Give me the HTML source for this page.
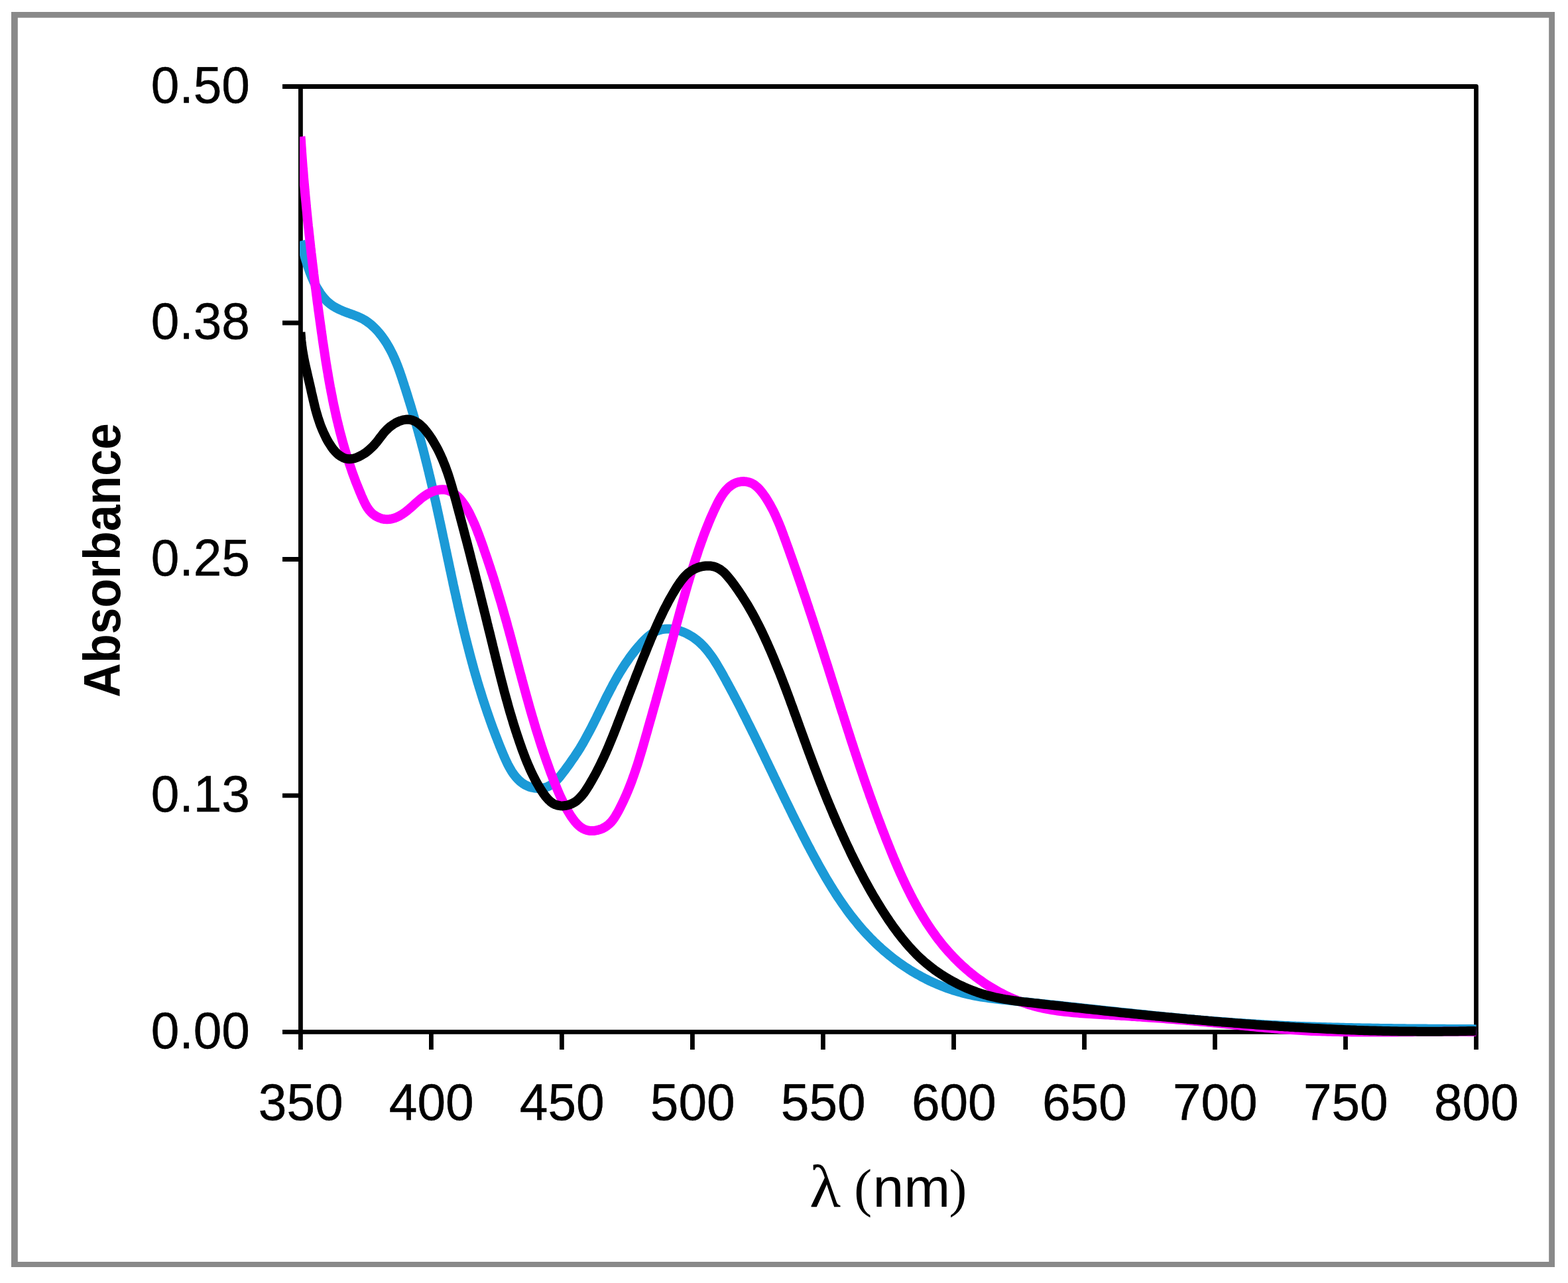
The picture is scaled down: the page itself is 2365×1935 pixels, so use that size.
<!DOCTYPE html>
<html lang="en">
<head>
<meta charset="utf-8">
<title>Absorbance spectra</title>
<style>
html,body{margin:0;padding:0;background:#fff;}
body{width:2365px;height:1935px;overflow:hidden;}
svg{display:block;}
.t{font-family:"Liberation Sans",sans-serif;fill:#000;}
.s{font-family:"Liberation Serif",serif;fill:#000;}
</style>
</head>
<body>
<svg width="2365" height="1935" viewBox="0 0 2365 1935">
<rect x="0" y="0" width="2365" height="1935" fill="#fff"/>
<path fill="#898989" fill-rule="evenodd" d="M17 18H2345V1911H17Z M26.8 26.8V1903.1H2336.2V26.8Z"/>
<g fill="none" stroke="#000" stroke-width="6.8" stroke-linecap="butt">
<rect x="453.4" y="130.5" width="1773.1" height="1425.9" stroke-linejoin="round"/>
<path d="M426 130.5H453.4M426 487.0H453.4M426 843.5H453.4M426 1199.9H453.4M426 1556.4H453.4M453.4 1556.4V1583M650.4 1556.4V1583M847.4 1556.4V1583M1044.4 1556.4V1583M1241.4 1556.4V1583M1438.5 1556.4V1583M1635.5 1556.4V1583M1832.5 1556.4V1583M2029.5 1556.4V1583M2226.5 1556.4V1583"/>
</g>
<defs><clipPath id="pc"><rect x="452.0" y="100" width="1774.8" height="1500"/></clipPath></defs>
<g clip-path="url(#pc)" fill="none" stroke-width="14.0" stroke-linejoin="round" stroke-linecap="butt">
<path stroke="#1b9ad7" d="M453.4 363.5L454.4 367.4L455.4 371.2L456.4 375.0L457.5 378.8L458.5 382.6L459.6 386.5L460.7 390.4L461.9 394.2L463.1 398.1L464.3 401.9L465.6 405.7L467.0 409.5L468.4 413.3L469.9 417.1L471.5 420.8L473.1 424.4L474.9 428.0L476.7 431.6L478.7 435.1L480.8 438.5L482.9 441.9L485.2 445.2L487.7 448.3L490.3 451.3L493.0 454.2L495.9 456.8L499.0 459.3L502.2 461.5L505.6 463.5L509.1 465.4L512.7 467.1L516.3 468.7L520.1 470.2L523.8 471.6L527.6 473.0L531.5 474.3L535.2 475.7L539.0 477.2L542.6 478.8L546.2 480.5L549.7 482.5L553.1 484.7L556.3 487.0L559.5 489.5L562.5 492.2L565.4 495.0L568.2 497.9L570.9 500.9L573.4 504.0L575.9 507.1L578.2 510.3L580.4 513.5L582.6 516.8L584.6 520.2L586.6 523.6L588.5 527.1L590.3 530.6L592.1 534.1L593.7 537.7L595.4 541.3L596.9 545.0L598.4 548.7L599.9 552.4L601.3 556.2L602.7 559.9L604.0 563.7L605.3 567.5L606.6 571.4L607.8 575.2L609.1 579.0L610.3 582.9L611.6 586.7L612.8 590.6L614.0 594.4L615.2 598.3L616.4 602.2L617.6 606.0L618.8 609.9L620.0 613.8L621.1 617.6L622.3 621.5L623.4 625.4L624.6 629.2L625.7 633.1L626.9 637.0L628.0 640.9L629.1 644.7L630.2 648.6L631.3 652.5L632.3 656.4L633.4 660.3L634.5 664.2L635.5 668.0L636.5 671.9L637.6 675.8L638.6 679.7L639.6 683.6L640.6 687.5L641.6 691.4L642.5 695.2L643.5 699.1L644.5 703.0L645.4 706.9L646.4 710.8L647.3 714.7L648.2 718.6L649.2 722.5L650.1 726.3L651.0 730.2L651.9 734.1L652.8 738.0L653.7 741.9L654.6 745.8L655.4 749.7L656.3 753.6L657.2 757.5L658.0 761.4L658.9 765.2L659.7 769.1L660.6 773.0L661.4 776.9L662.3 780.8L663.1 784.7L664.0 788.6L664.8 792.5L665.6 796.4L666.5 800.3L667.3 804.2L668.1 808.1L668.9 811.9L669.8 815.8L670.6 819.7L671.4 823.6L672.2 827.5L673.1 831.4L673.9 835.3L674.7 839.2L675.5 843.1L676.4 847.0L677.2 850.9L678.0 854.7L678.8 858.6L679.7 862.5L680.5 866.4L681.3 870.3L682.2 874.2L683.0 878.1L683.8 882.0L684.7 885.9L685.5 889.7L686.4 893.6L687.3 897.5L688.1 901.4L689.0 905.3L689.9 909.2L690.7 913.1L691.6 917.0L692.5 920.8L693.4 924.7L694.3 928.6L695.2 932.5L696.1 936.4L697.0 940.3L698.0 944.1L698.9 948.0L699.8 951.9L700.8 955.8L701.7 959.7L702.7 963.6L703.7 967.4L704.7 971.3L705.7 975.2L706.7 979.1L707.7 982.9L708.7 986.8L709.7 990.7L710.8 994.6L711.8 998.4L712.9 1002.3L713.9 1006.2L715.0 1010.1L716.1 1013.9L717.2 1017.8L718.4 1021.7L719.5 1025.6L720.6 1029.4L721.8 1033.3L723.0 1037.2L724.2 1041.0L725.4 1044.9L726.6 1048.8L727.8 1052.6L729.0 1056.5L730.3 1060.3L731.6 1064.2L732.9 1068.1L734.2 1071.9L735.5 1075.8L736.8 1079.6L738.2 1083.5L739.5 1087.4L740.9 1091.2L742.3 1095.1L743.7 1098.9L745.2 1102.8L746.6 1106.6L748.1 1110.5L749.6 1114.3L751.1 1118.2L752.6 1122.0L754.1 1125.9L755.7 1129.7L757.3 1133.6L758.9 1137.4L760.5 1141.2L762.2 1145.0L763.9 1148.7L765.7 1152.4L767.6 1156.0L769.5 1159.4L771.5 1162.8L773.6 1166.0L775.9 1169.1L778.2 1172.1L780.7 1174.8L783.3 1177.4L786.0 1179.7L788.9 1181.8L792.0 1183.7L795.2 1185.3L798.6 1186.7L802.2 1187.7L806.0 1188.5L809.9 1188.9L813.9 1188.9L817.9 1188.6L821.8 1187.8L825.6 1186.6L829.2 1184.9L832.6 1182.8L835.9 1180.3L838.9 1177.4L841.8 1174.4L844.6 1171.1L847.3 1167.7L849.9 1164.3L852.5 1160.9L854.9 1157.5L857.4 1154.2L859.7 1150.9L862.0 1147.6L864.3 1144.3L866.6 1141.1L868.7 1137.8L870.9 1134.5L873.0 1131.2L875.1 1127.9L877.1 1124.5L879.1 1121.1L881.1 1117.6L883.0 1114.2L884.9 1110.7L886.8 1107.2L888.7 1103.7L890.6 1100.2L892.4 1096.6L894.2 1093.0L896.0 1089.5L897.8 1085.9L899.6 1082.3L901.3 1078.7L903.1 1075.1L904.9 1071.5L906.7 1067.9L908.4 1064.3L910.2 1060.7L912.0 1057.1L913.7 1053.5L915.5 1049.9L917.4 1046.4L919.2 1042.8L921.0 1039.3L922.9 1035.8L924.7 1032.2L926.6 1028.8L928.6 1025.3L930.5 1021.8L932.5 1018.4L934.5 1015.0L936.6 1011.6L938.7 1008.2L940.9 1004.8L943.0 1001.5L945.3 998.2L947.6 994.9L949.9 991.6L952.3 988.3L954.8 985.1L957.3 981.9L959.9 978.7L962.6 975.5L965.4 972.4L968.2 969.2L971.1 966.2L974.1 963.2L977.1 960.5L980.3 957.9L983.6 955.5L986.9 953.5L990.4 951.8L994.0 950.4L997.7 949.4L1001.5 948.8L1005.3 948.5L1009.2 948.5L1013.1 948.8L1017.0 949.3L1020.9 950.1L1024.8 951.2L1028.6 952.5L1032.4 954.0L1036.1 955.8L1039.7 957.7L1043.1 959.7L1046.5 961.9L1049.7 964.3L1052.8 966.8L1055.8 969.4L1058.6 972.1L1061.4 974.9L1064.0 977.9L1066.6 980.9L1069.0 984.0L1071.4 987.2L1073.8 990.4L1076.0 993.7L1078.2 997.1L1080.3 1000.5L1082.4 1004.0L1084.5 1007.5L1086.5 1011.0L1088.5 1014.5L1090.5 1018.0L1092.4 1021.6L1094.4 1025.1L1096.3 1028.7L1098.2 1032.2L1100.2 1035.8L1102.1 1039.3L1104.0 1042.9L1105.9 1046.4L1107.7 1050.0L1109.6 1053.6L1111.5 1057.1L1113.3 1060.7L1115.2 1064.3L1117.0 1067.8L1118.8 1071.4L1120.6 1075.0L1122.4 1078.6L1124.3 1082.1L1126.0 1085.7L1127.8 1089.3L1129.6 1092.9L1131.4 1096.5L1133.2 1100.1L1134.9 1103.6L1136.7 1107.2L1138.5 1110.8L1140.2 1114.4L1142.0 1118.0L1143.7 1121.6L1145.5 1125.2L1147.2 1128.8L1148.9 1132.4L1150.7 1136.0L1152.4 1139.6L1154.1 1143.2L1155.8 1146.7L1157.6 1150.3L1159.3 1153.9L1161.0 1157.5L1162.7 1161.1L1164.5 1164.7L1166.2 1168.3L1167.9 1171.9L1169.6 1175.5L1171.4 1179.1L1173.1 1182.7L1174.8 1186.3L1176.5 1189.9L1178.3 1193.5L1180.0 1197.1L1181.7 1200.7L1183.5 1204.3L1185.2 1207.9L1187.0 1211.4L1188.7 1215.0L1190.5 1218.6L1192.2 1222.2L1194.0 1225.8L1195.7 1229.4L1197.5 1233.0L1199.3 1236.6L1201.1 1240.1L1202.9 1243.7L1204.7 1247.3L1206.5 1250.9L1208.3 1254.4L1210.1 1258.0L1211.9 1261.6L1213.8 1265.2L1215.6 1268.7L1217.4 1272.3L1219.3 1275.9L1221.2 1279.4L1223.0 1283.0L1224.9 1286.5L1226.8 1290.1L1228.7 1293.6L1230.7 1297.2L1232.6 1300.7L1234.5 1304.3L1236.5 1307.8L1238.5 1311.3L1240.5 1314.8L1242.5 1318.3L1244.5 1321.8L1246.5 1325.2L1248.6 1328.7L1250.7 1332.2L1252.8 1335.6L1254.9 1339.0L1257.0 1342.4L1259.2 1345.8L1261.3 1349.2L1263.5 1352.5L1265.8 1355.9L1268.0 1359.2L1270.3 1362.5L1272.6 1365.8L1274.9 1369.0L1277.2 1372.3L1279.6 1375.5L1282.0 1378.7L1284.4 1381.9L1286.9 1385.0L1289.4 1388.1L1291.9 1391.2L1294.4 1394.3L1297.0 1397.3L1299.6 1400.4L1302.2 1403.3L1304.9 1406.3L1307.6 1409.2L1310.3 1412.1L1313.1 1415.0L1315.9 1417.8L1318.7 1420.6L1321.6 1423.4L1324.5 1426.1L1327.5 1428.8L1330.4 1431.5L1333.4 1434.1L1336.5 1436.7L1339.6 1439.2L1342.7 1441.8L1345.8 1444.2L1349.0 1446.7L1352.1 1449.1L1355.4 1451.4L1358.6 1453.7L1361.9 1456.0L1365.2 1458.2L1368.6 1460.4L1371.9 1462.6L1375.3 1464.7L1378.7 1466.7L1382.2 1468.8L1385.7 1470.7L1389.2 1472.7L1392.7 1474.5L1396.3 1476.4L1399.8 1478.1L1403.4 1479.9L1407.1 1481.6L1410.7 1483.2L1414.4 1484.8L1418.1 1486.3L1421.8 1487.8L1425.5 1489.2L1429.3 1490.6L1433.1 1491.9L1436.9 1493.2L1440.7 1494.4L1444.5 1495.5L1448.4 1496.6L1452.3 1497.7L1456.2 1498.7L1460.1 1499.6L1464.0 1500.5L1468.0 1501.3L1471.9 1502.1L1475.9 1502.8L1479.9 1503.5L1483.9 1504.1L1487.9 1504.7L1491.9 1505.3L1495.9 1505.8L1499.9 1506.3L1504.0 1506.8L1508.0 1507.3L1512.0 1507.7L1516.0 1508.1L1520.0 1508.6L1524.0 1509.0L1528.0 1509.4L1532.0 1509.8L1536.0 1510.2L1539.9 1510.6L1543.9 1511.0L1547.9 1511.4L1551.8 1511.8L1555.8 1512.2L1559.8 1512.6L1563.7 1513.0L1567.7 1513.4L1571.6 1513.9L1575.6 1514.3L1579.6 1514.7L1583.5 1515.1L1587.5 1515.5L1591.5 1515.9L1595.4 1516.3L1599.4 1516.8L1603.4 1517.2L1607.3 1517.6L1611.3 1518.0L1615.3 1518.5L1619.2 1518.9L1623.2 1519.3L1627.2 1519.7L1631.2 1520.2L1635.1 1520.6L1639.1 1521.0L1643.1 1521.4L1647.1 1521.9L1651.0 1522.3L1655.0 1522.7L1659.0 1523.2L1663.0 1523.6L1666.9 1524.0L1670.9 1524.4L1674.9 1524.9L1678.9 1525.3L1682.9 1525.7L1686.8 1526.2L1690.8 1526.6L1694.8 1527.0L1698.8 1527.4L1702.8 1527.8L1706.8 1528.3L1710.8 1528.7L1714.7 1529.1L1718.7 1529.5L1722.7 1529.9L1726.7 1530.3L1730.7 1530.8L1734.7 1531.2L1738.7 1531.6L1742.6 1532.0L1746.6 1532.4L1750.6 1532.8L1754.6 1533.2L1758.6 1533.6L1762.6 1534.0L1766.6 1534.3L1770.6 1534.7L1774.6 1535.1L1778.6 1535.5L1782.6 1535.9L1786.5 1536.2L1790.5 1536.6L1794.5 1537.0L1798.5 1537.3L1802.5 1537.7L1806.5 1538.0L1810.5 1538.4L1814.5 1538.7L1818.5 1539.1L1822.5 1539.4L1826.5 1539.7L1830.5 1540.1L1834.5 1540.4L1838.5 1540.7L1842.5 1541.0L1846.5 1541.3L1850.4 1541.6L1854.4 1541.9L1858.4 1542.2L1862.4 1542.5L1866.4 1542.8L1870.4 1543.0L1874.4 1543.3L1878.4 1543.6L1882.4 1543.8L1886.4 1544.1L1890.4 1544.3L1894.4 1544.6L1898.4 1544.8L1902.4 1545.0L1906.4 1545.3L1910.4 1545.5L1914.4 1545.7L1918.4 1545.9L1922.4 1546.1L1926.4 1546.3L1930.4 1546.5L1934.4 1546.7L1938.4 1546.9L1942.4 1547.0L1946.4 1547.2L1950.4 1547.4L1954.4 1547.6L1958.4 1547.7L1962.4 1547.9L1966.3 1548.0L1970.3 1548.2L1974.3 1548.3L1978.3 1548.5L1982.3 1548.6L1986.3 1548.7L1990.3 1548.8L1994.3 1549.0L1998.3 1549.1L2002.3 1549.2L2006.3 1549.3L2010.3 1549.4L2014.3 1549.5L2018.3 1549.6L2022.3 1549.7L2026.3 1549.8L2030.3 1549.9L2034.3 1550.0L2038.3 1550.1L2042.3 1550.2L2046.3 1550.3L2050.3 1550.3L2054.3 1550.4L2058.3 1550.5L2062.3 1550.6L2066.3 1550.6L2070.3 1550.7L2074.3 1550.8L2078.3 1550.8L2082.3 1550.9L2086.3 1550.9L2090.3 1551.0L2094.3 1551.1L2098.3 1551.1L2102.3 1551.2L2106.4 1551.2L2110.4 1551.2L2114.4 1551.3L2118.4 1551.3L2122.4 1551.4L2126.4 1551.4L2130.4 1551.5L2134.4 1551.5L2138.4 1551.5L2142.4 1551.6L2146.4 1551.6L2150.4 1551.6L2154.4 1551.7L2158.4 1551.7L2162.4 1551.7L2166.4 1551.8L2170.4 1551.8L2174.4 1551.8L2178.4 1551.8L2182.4 1551.9L2186.4 1551.9L2190.5 1551.9L2194.5 1552.0L2198.5 1552.0L2202.5 1552.0L2206.5 1552.0L2210.5 1552.1L2214.5 1552.1L2218.5 1552.1L2222.5 1552.2L2226.5 1552.4"/>
<path stroke="#ff00ff" d="M453.4 206.0L453.8 210.0L454.1 214.0L454.3 218.0L454.6 222.0L454.9 226.0L455.1 230.0L455.4 233.9L455.7 237.9L456.0 241.9L456.3 245.9L456.6 249.9L456.9 253.9L457.3 257.9L457.6 261.9L457.9 265.9L458.2 269.9L458.6 273.9L458.9 277.9L459.3 281.8L459.6 285.8L460.0 289.8L460.3 293.8L460.7 297.8L461.1 301.8L461.5 305.7L461.8 309.7L462.2 313.7L462.6 317.7L463.0 321.7L463.4 325.6L463.8 329.6L464.2 333.6L464.6 337.6L465.0 341.5L465.5 345.5L465.9 349.5L466.3 353.5L466.8 357.4L467.2 361.4L467.6 365.4L468.1 369.4L468.5 373.3L469.0 377.3L469.4 381.3L469.9 385.3L470.4 389.2L470.8 393.2L471.3 397.2L471.8 401.1L472.3 405.1L472.8 409.1L473.2 413.0L473.7 417.0L474.2 421.0L474.7 424.9L475.2 428.9L475.7 432.9L476.3 436.8L476.8 440.8L477.3 444.8L477.8 448.7L478.3 452.7L478.8 456.7L479.4 460.6L479.9 464.6L480.4 468.6L481.0 472.5L481.5 476.5L482.1 480.5L482.6 484.4L483.2 488.4L483.7 492.4L484.3 496.3L484.8 500.3L485.4 504.3L486.0 508.2L486.5 512.2L487.1 516.2L487.7 520.1L488.3 524.1L488.9 528.0L489.5 532.0L490.1 536.0L490.7 539.9L491.3 543.9L491.9 547.8L492.6 551.8L493.2 555.7L493.9 559.7L494.6 563.6L495.2 567.6L495.9 571.5L496.6 575.4L497.3 579.4L498.0 583.3L498.8 587.2L499.5 591.2L500.3 595.1L501.1 599.0L501.8 602.9L502.6 606.9L503.4 610.8L504.3 614.7L505.1 618.6L506.0 622.5L506.8 626.4L507.7 630.3L508.6 634.2L509.6 638.0L510.5 641.9L511.5 645.8L512.4 649.7L513.4 653.5L514.5 657.4L515.5 661.3L516.5 665.1L517.6 669.0L518.7 672.8L519.8 676.6L521.0 680.5L522.1 684.3L523.3 688.1L524.5 691.9L525.7 695.7L527.0 699.5L528.3 703.3L529.6 707.1L530.9 710.9L532.2 714.6L533.6 718.4L535.0 722.2L536.4 725.9L537.9 729.7L539.4 733.4L540.9 737.1L542.4 740.9L544.0 744.6L545.5 748.3L547.2 752.0L548.8 755.7L550.6 759.3L552.4 762.8L554.5 766.2L556.8 769.4L559.3 772.3L562.1 775.0L565.3 777.4L568.7 779.4L572.3 781.0L576.1 782.3L579.9 783.0L583.8 783.3L587.7 783.0L591.6 782.3L595.4 781.2L599.1 779.7L602.8 777.9L606.4 775.8L609.8 773.5L613.1 771.0L616.3 768.4L619.5 765.7L622.6 763.0L625.6 760.2L628.7 757.4L631.8 754.7L634.9 752.0L638.2 749.5L641.5 747.2L645.0 745.0L648.6 743.1L652.4 741.4L656.2 740.0L660.1 739.1L664.0 738.5L667.8 738.3L671.5 738.6L675.0 739.4L678.4 740.7L681.7 742.3L684.8 744.3L687.8 746.6L690.7 749.2L693.5 752.1L696.1 755.2L698.6 758.6L701.1 762.1L703.4 765.7L705.6 769.5L707.7 773.4L709.6 777.3L711.5 781.2L713.3 785.1L715.0 788.9L716.7 792.7L718.2 796.5L719.7 800.2L721.1 803.9L722.5 807.5L723.8 811.2L725.2 814.8L726.5 818.5L727.8 822.1L729.1 825.8L730.3 829.5L731.6 833.2L732.9 837.0L734.2 840.7L735.4 844.4L736.7 848.2L737.9 851.9L739.2 855.7L740.4 859.5L741.6 863.3L742.9 867.1L744.1 870.9L745.3 874.7L746.5 878.5L747.7 882.4L748.8 886.2L750.0 890.0L751.2 893.9L752.3 897.7L753.5 901.6L754.6 905.4L755.8 909.3L756.9 913.1L758.0 917.0L759.1 920.9L760.2 924.7L761.3 928.6L762.4 932.5L763.5 936.3L764.6 940.2L765.6 944.1L766.7 947.9L767.8 951.8L768.8 955.7L769.9 959.5L770.9 963.4L772.0 967.3L773.0 971.2L774.0 975.0L775.1 978.9L776.1 982.8L777.1 986.6L778.2 990.5L779.2 994.4L780.2 998.3L781.2 1002.1L782.3 1006.0L783.3 1009.9L784.3 1013.7L785.4 1017.6L786.4 1021.4L787.4 1025.3L788.5 1029.2L789.5 1033.0L790.6 1036.9L791.6 1040.7L792.7 1044.6L793.7 1048.5L794.8 1052.3L795.9 1056.1L797.0 1060.0L798.0 1063.8L799.1 1067.7L800.2 1071.5L801.3 1075.3L802.4 1079.2L803.6 1083.0L804.7 1086.8L805.8 1090.7L807.0 1094.5L808.1 1098.3L809.3 1102.1L810.5 1105.9L811.7 1109.7L812.9 1113.5L814.1 1117.3L815.3 1121.1L816.5 1124.9L817.8 1128.7L819.0 1132.5L820.3 1136.3L821.6 1140.0L822.9 1143.8L824.2 1147.6L825.6 1151.3L826.9 1155.1L828.3 1158.8L829.6 1162.6L831.0 1166.3L832.5 1170.0L833.9 1173.8L835.3 1177.5L836.8 1181.2L838.3 1184.9L839.8 1188.6L841.3 1192.3L842.9 1196.0L844.5 1199.7L846.2 1203.3L847.9 1207.0L849.7 1210.6L851.5 1214.2L853.4 1217.8L855.4 1221.4L857.5 1224.9L859.7 1228.4L861.9 1231.9L864.3 1235.3L866.8 1238.6L869.5 1241.7L872.3 1244.5L875.2 1247.1L878.4 1249.2L881.7 1250.9L885.3 1252.1L889.0 1252.9L892.8 1253.1L896.7 1252.9L900.6 1252.2L904.5 1251.1L908.3 1249.7L911.9 1247.8L915.3 1245.6L918.4 1243.1L921.3 1240.4L923.9 1237.3L926.2 1234.1L928.4 1230.7L930.5 1227.2L932.5 1223.6L934.4 1220.0L936.2 1216.4L938.0 1212.7L939.8 1209.1L941.5 1205.4L943.2 1201.7L944.8 1198.0L946.4 1194.3L947.9 1190.6L949.4 1186.9L950.9 1183.1L952.3 1179.4L953.7 1175.6L955.0 1171.9L956.4 1168.1L957.7 1164.3L959.0 1160.5L960.2 1156.7L961.5 1152.9L962.7 1149.1L963.9 1145.2L965.0 1141.4L966.2 1137.6L967.3 1133.8L968.5 1129.9L969.6 1126.1L970.7 1122.3L971.8 1118.4L972.9 1114.6L974.0 1110.7L975.1 1106.9L976.2 1103.1L977.2 1099.2L978.3 1095.4L979.4 1091.6L980.5 1087.7L981.6 1083.9L982.7 1080.1L983.8 1076.2L984.8 1072.4L985.9 1068.6L987.0 1064.7L988.1 1060.9L989.2 1057.1L990.2 1053.2L991.3 1049.4L992.4 1045.6L993.4 1041.7L994.5 1037.9L995.6 1034.0L996.6 1030.2L997.7 1026.3L998.8 1022.5L999.8 1018.6L1000.9 1014.7L1001.9 1010.9L1003.0 1007.0L1004.0 1003.1L1005.1 999.3L1006.1 995.4L1007.1 991.5L1008.2 987.6L1009.2 983.7L1010.2 979.8L1011.3 975.9L1012.3 972.1L1013.3 968.2L1014.4 964.3L1015.4 960.4L1016.5 956.5L1017.5 952.6L1018.5 948.7L1019.6 944.8L1020.6 940.9L1021.7 937.0L1022.7 933.1L1023.8 929.3L1024.8 925.4L1025.9 921.5L1027.0 917.6L1028.0 913.8L1029.1 909.9L1030.2 906.0L1031.3 902.2L1032.4 898.3L1033.5 894.5L1034.6 890.6L1035.7 886.8L1036.8 882.9L1037.9 879.1L1039.1 875.3L1040.2 871.5L1041.4 867.7L1042.5 863.9L1043.7 860.1L1044.9 856.3L1046.1 852.5L1047.3 848.7L1048.5 845.0L1049.7 841.2L1051.0 837.5L1052.2 833.8L1053.4 830.0L1054.7 826.3L1056.0 822.6L1057.3 818.9L1058.6 815.2L1060.0 811.5L1061.3 807.8L1062.7 804.1L1064.1 800.4L1065.6 796.7L1067.1 793.0L1068.6 789.2L1070.1 785.5L1071.7 781.7L1073.4 777.9L1075.1 774.1L1076.8 770.2L1078.6 766.4L1080.5 762.5L1082.4 758.6L1084.4 754.9L1086.5 751.2L1088.7 747.7L1091.0 744.3L1093.4 741.1L1096.0 738.1L1098.7 735.4L1101.6 733.0L1104.6 730.9L1107.8 729.1L1111.2 727.7L1114.8 726.8L1118.5 726.2L1122.3 726.1L1126.0 726.5L1129.7 727.3L1133.3 728.6L1136.7 730.4L1139.8 732.7L1142.8 735.3L1145.7 738.2L1148.4 741.4L1150.9 744.7L1153.4 748.2L1155.7 751.7L1157.9 755.2L1160.0 758.8L1162.1 762.4L1164.0 766.0L1165.9 769.6L1167.7 773.2L1169.4 776.8L1171.0 780.5L1172.6 784.1L1174.2 787.8L1175.7 791.4L1177.2 795.1L1178.6 798.8L1180.0 802.5L1181.4 806.2L1182.7 809.9L1184.1 813.6L1185.4 817.3L1186.8 821.1L1188.1 824.8L1189.5 828.5L1190.8 832.3L1192.1 836.0L1193.5 839.8L1194.8 843.5L1196.1 847.3L1197.4 851.1L1198.7 854.8L1200.1 858.6L1201.4 862.4L1202.7 866.1L1204.0 869.9L1205.3 873.7L1206.6 877.5L1207.9 881.3L1209.2 885.1L1210.4 888.9L1211.7 892.7L1213.0 896.5L1214.3 900.3L1215.6 904.1L1216.8 907.9L1218.1 911.7L1219.4 915.5L1220.6 919.4L1221.9 923.2L1223.2 927.0L1224.4 930.8L1225.7 934.6L1226.9 938.5L1228.2 942.3L1229.4 946.1L1230.7 949.9L1231.9 953.7L1233.2 957.6L1234.4 961.4L1235.6 965.2L1236.9 969.0L1238.1 972.9L1239.3 976.7L1240.5 980.5L1241.8 984.3L1243.0 988.2L1244.2 992.0L1245.4 995.8L1246.6 999.6L1247.9 1003.4L1249.1 1007.3L1250.3 1011.1L1251.5 1014.9L1252.7 1018.7L1253.9 1022.5L1255.1 1026.3L1256.3 1030.1L1257.5 1033.9L1258.7 1037.7L1259.9 1041.5L1261.1 1045.3L1262.3 1049.1L1263.5 1052.9L1264.7 1056.7L1265.9 1060.5L1267.1 1064.3L1268.3 1068.1L1269.5 1071.9L1270.8 1075.7L1272.0 1079.5L1273.2 1083.3L1274.4 1087.1L1275.6 1090.9L1276.8 1094.7L1278.0 1098.5L1279.2 1102.2L1280.5 1106.0L1281.7 1109.8L1282.9 1113.6L1284.1 1117.4L1285.4 1121.2L1286.6 1124.9L1287.8 1128.7L1289.1 1132.5L1290.3 1136.3L1291.6 1140.1L1292.8 1143.8L1294.1 1147.6L1295.4 1151.4L1296.6 1155.1L1297.9 1158.9L1299.2 1162.7L1300.5 1166.5L1301.7 1170.2L1303.0 1174.0L1304.3 1177.8L1305.6 1181.5L1306.9 1185.3L1308.2 1189.1L1309.6 1192.8L1310.9 1196.6L1312.2 1200.4L1313.6 1204.1L1314.9 1207.9L1316.3 1211.6L1317.6 1215.4L1319.0 1219.2L1320.4 1222.9L1321.7 1226.7L1323.1 1230.4L1324.5 1234.2L1325.9 1238.0L1327.4 1241.7L1328.8 1245.5L1330.2 1249.2L1331.6 1253.0L1333.1 1256.7L1334.6 1260.5L1336.0 1264.2L1337.5 1268.0L1339.0 1271.7L1340.5 1275.5L1342.0 1279.2L1343.5 1283.0L1345.0 1286.7L1346.6 1290.5L1348.1 1294.2L1349.7 1297.9L1351.3 1301.7L1352.9 1305.4L1354.5 1309.1L1356.1 1312.8L1357.7 1316.5L1359.4 1320.2L1361.1 1323.9L1362.8 1327.5L1364.5 1331.2L1366.2 1334.8L1368.0 1338.5L1369.8 1342.1L1371.6 1345.7L1373.4 1349.3L1375.2 1352.8L1377.1 1356.4L1379.0 1359.9L1380.9 1363.5L1382.9 1367.0L1384.8 1370.5L1386.8 1373.9L1388.8 1377.4L1390.9 1380.8L1393.0 1384.2L1395.1 1387.6L1397.2 1391.0L1399.4 1394.3L1401.6 1397.6L1403.8 1400.9L1406.1 1404.2L1408.4 1407.4L1410.7 1410.6L1413.0 1413.8L1415.4 1417.0L1417.9 1420.1L1420.3 1423.2L1422.8 1426.3L1425.4 1429.3L1428.0 1432.3L1430.6 1435.3L1433.2 1438.2L1435.9 1441.1L1438.6 1444.0L1441.4 1446.8L1444.2 1449.6L1447.1 1452.4L1450.0 1455.1L1452.9 1457.8L1455.9 1460.4L1458.9 1463.1L1462.0 1465.6L1465.0 1468.2L1468.2 1470.6L1471.3 1473.1L1474.5 1475.5L1477.7 1477.8L1481.0 1480.1L1484.3 1482.4L1487.6 1484.6L1491.0 1486.7L1494.4 1488.9L1497.8 1490.9L1501.2 1492.9L1504.7 1494.9L1508.2 1496.8L1511.8 1498.6L1515.3 1500.4L1518.9 1502.2L1522.5 1503.9L1526.2 1505.5L1529.8 1507.1L1533.5 1508.6L1537.2 1510.0L1541.0 1511.4L1544.7 1512.7L1548.5 1514.0L1552.3 1515.2L1556.1 1516.3L1560.0 1517.4L1563.8 1518.4L1567.7 1519.4L1571.6 1520.3L1575.5 1521.1L1579.4 1521.9L1583.4 1522.6L1587.3 1523.3L1591.3 1523.9L1595.3 1524.5L1599.3 1525.0L1603.3 1525.5L1607.3 1526.0L1611.3 1526.4L1615.3 1526.8L1619.3 1527.2L1623.4 1527.5L1627.4 1527.9L1631.4 1528.2L1635.5 1528.4L1639.5 1528.7L1643.6 1529.0L1647.6 1529.2L1651.7 1529.5L1655.7 1529.7L1659.7 1529.9L1663.8 1530.2L1667.8 1530.4L1671.8 1530.6L1675.8 1530.9L1679.8 1531.1L1683.8 1531.4L1687.8 1531.6L1691.8 1531.9L1695.8 1532.1L1699.8 1532.3L1703.8 1532.6L1707.8 1532.9L1711.8 1533.1L1715.8 1533.4L1719.8 1533.6L1723.7 1533.9L1727.7 1534.2L1731.7 1534.4L1735.6 1534.7L1739.6 1535.0L1743.6 1535.3L1747.6 1535.6L1751.5 1535.8L1755.5 1536.1L1759.4 1536.4L1763.4 1536.7L1767.4 1537.0L1771.3 1537.3L1775.3 1537.7L1779.3 1538.0L1783.2 1538.3L1787.2 1538.6L1791.2 1538.9L1795.1 1539.3L1799.1 1539.6L1803.1 1540.0L1807.0 1540.3L1811.0 1540.7L1815.0 1541.0L1818.9 1541.4L1822.9 1541.8L1826.9 1542.1L1830.9 1542.5L1834.8 1542.9L1838.8 1543.3L1842.8 1543.7L1846.8 1544.1L1850.8 1544.5L1854.8 1544.9L1858.7 1545.3L1862.7 1545.7L1866.7 1546.1L1870.7 1546.5L1874.7 1546.8L1878.7 1547.2L1882.7 1547.6L1886.7 1548.0L1890.7 1548.4L1894.7 1548.8L1898.7 1549.2L1902.7 1549.5L1906.7 1549.9L1910.7 1550.2L1914.7 1550.6L1918.7 1550.9L1922.7 1551.3L1926.6 1551.6L1930.6 1551.9L1934.6 1552.2L1938.6 1552.5L1942.6 1552.8L1946.6 1553.1L1950.6 1553.3L1954.6 1553.6L1958.6 1553.8L1962.6 1554.1L1966.6 1554.3L1970.6 1554.5L1974.6 1554.7L1978.6 1554.9L1982.6 1555.0L1986.6 1555.2L1990.6 1555.3L1994.6 1555.5L1998.6 1555.6L2002.6 1555.7L2006.6 1555.8L2010.6 1555.9L2014.6 1556.0L2018.5 1556.1L2022.5 1556.2L2026.5 1556.2L2030.5 1556.3L2034.5 1556.3L2038.5 1556.4L2042.5 1556.4L2046.5 1556.5L2050.5 1556.5L2054.5 1556.5L2058.5 1556.5L2062.5 1556.5L2066.5 1556.5L2070.5 1556.5L2074.4 1556.5L2078.4 1556.5L2082.4 1556.5L2086.4 1556.5L2090.4 1556.5L2094.4 1556.4L2098.4 1556.4L2102.4 1556.4L2106.4 1556.4L2110.4 1556.3L2114.4 1556.3L2118.4 1556.3L2122.4 1556.2L2126.4 1556.2L2130.4 1556.2L2134.4 1556.1L2138.4 1556.1L2142.4 1556.1L2146.4 1556.0L2150.4 1556.0L2154.4 1556.0L2158.4 1555.9L2162.4 1555.9L2166.4 1555.9L2170.4 1555.9L2174.4 1555.8L2178.4 1555.8L2182.4 1555.8L2186.4 1555.8L2190.4 1555.8L2194.4 1555.8L2198.4 1555.8L2202.5 1555.8L2206.5 1555.8L2210.5 1555.8L2214.5 1555.9L2218.5 1555.9L2222.5 1555.9L2226.5 1556.0"/>
<path stroke="#000" d="M453.4 501.0L453.7 505.0L454.0 509.0L454.3 512.9L454.7 516.9L455.2 520.9L455.7 524.9L456.3 528.8L457.0 532.8L457.7 536.8L458.4 540.7L459.2 544.7L460.0 548.6L460.9 552.5L461.8 556.5L462.7 560.4L463.6 564.3L464.5 568.2L465.4 572.1L466.3 576.0L467.2 579.9L468.1 583.8L469.0 587.6L469.8 591.5L470.7 595.4L471.6 599.2L472.5 603.1L473.4 606.9L474.3 610.7L475.2 614.5L476.2 618.4L477.3 622.2L478.4 626.0L479.5 629.8L480.8 633.6L482.1 637.4L483.4 641.2L484.9 645.0L486.4 648.7L488.1 652.5L489.9 656.3L491.7 660.1L493.7 663.8L495.8 667.5L498.1 671.1L500.4 674.6L502.9 677.9L505.5 680.9L508.2 683.7L511.0 686.1L514.0 688.2L517.1 689.9L520.3 691.2L523.6 692.0L527.0 692.3L530.6 692.0L534.2 691.3L537.9 690.1L541.6 688.5L545.3 686.6L548.9 684.4L552.5 681.9L555.9 679.2L559.2 676.3L562.4 673.2L565.3 670.1L568.0 666.9L570.6 663.7L573.0 660.4L575.5 657.2L577.9 654.1L580.5 651.0L583.3 648.1L586.3 645.2L589.6 642.6L593.1 640.1L596.7 637.9L600.4 636.1L604.2 634.6L608.0 633.4L611.7 632.8L615.4 632.6L618.9 633.0L622.4 633.9L625.7 635.2L628.8 637.0L631.9 639.1L634.8 641.6L637.7 644.3L640.4 647.3L643.0 650.5L645.5 653.8L648.0 657.2L650.3 660.6L652.5 664.1L654.6 667.6L656.7 671.2L658.7 674.7L660.6 678.3L662.4 682.0L664.1 685.6L665.8 689.3L667.4 692.9L668.9 696.7L670.4 700.4L671.9 704.1L673.2 707.9L674.6 711.7L675.9 715.4L677.1 719.2L678.4 723.1L679.5 726.9L680.7 730.7L681.8 734.5L682.9 738.4L684.0 742.2L685.1 746.1L686.2 750.0L687.2 753.8L688.3 757.7L689.3 761.5L690.3 765.4L691.4 769.3L692.4 773.1L693.5 777.0L694.5 780.9L695.5 784.7L696.5 788.6L697.6 792.5L698.6 796.4L699.6 800.2L700.6 804.1L701.6 808.0L702.6 811.8L703.7 815.7L704.7 819.6L705.7 823.5L706.7 827.3L707.7 831.2L708.7 835.1L709.7 839.0L710.6 842.8L711.6 846.7L712.6 850.6L713.6 854.5L714.6 858.4L715.6 862.2L716.6 866.1L717.5 870.0L718.5 873.9L719.5 877.7L720.5 881.6L721.4 885.5L722.4 889.4L723.4 893.3L724.4 897.2L725.3 901.0L726.3 904.9L727.2 908.8L728.2 912.7L729.2 916.6L730.1 920.5L731.1 924.3L732.1 928.2L733.0 932.1L734.0 936.0L734.9 939.9L735.9 943.8L736.8 947.7L737.8 951.6L738.8 955.4L739.7 959.3L740.7 963.2L741.6 967.1L742.6 971.0L743.5 974.9L744.5 978.8L745.4 982.7L746.4 986.5L747.3 990.4L748.3 994.3L749.3 998.2L750.2 1002.1L751.2 1006.0L752.2 1009.9L753.1 1013.7L754.1 1017.6L755.1 1021.5L756.1 1025.4L757.1 1029.3L758.1 1033.1L759.1 1037.0L760.1 1040.9L761.1 1044.7L762.2 1048.6L763.2 1052.5L764.3 1056.3L765.4 1060.2L766.4 1064.0L767.5 1067.9L768.6 1071.7L769.7 1075.5L770.9 1079.4L772.0 1083.2L773.2 1087.0L774.3 1090.8L775.5 1094.6L776.7 1098.4L777.9 1102.2L779.2 1106.0L780.4 1109.8L781.7 1113.6L783.0 1117.4L784.3 1121.2L785.6 1124.9L786.9 1128.7L788.3 1132.4L789.7 1136.2L791.1 1139.9L792.5 1143.6L794.0 1147.3L795.5 1151.0L797.1 1154.7L798.7 1158.4L800.3 1162.1L802.0 1165.7L803.8 1169.3L805.6 1172.9L807.4 1176.5L809.4 1180.1L811.4 1183.6L813.5 1187.2L815.6 1190.6L817.9 1194.1L820.2 1197.6L822.7 1200.9L825.3 1204.0L828.0 1206.9L830.9 1209.5L834.0 1211.7L837.4 1213.4L840.9 1214.5L844.6 1215.2L848.4 1215.4L852.3 1215.1L856.1 1214.4L859.7 1213.3L863.3 1211.8L866.6 1209.9L869.8 1207.7L872.7 1205.1L875.5 1202.3L878.2 1199.3L880.7 1196.1L883.1 1192.7L885.4 1189.2L887.7 1185.6L889.8 1182.0L891.9 1178.4L894.0 1174.8L896.0 1171.2L898.0 1167.6L899.9 1164.0L901.7 1160.4L903.6 1156.8L905.4 1153.2L907.1 1149.6L908.8 1146.0L910.5 1142.4L912.2 1138.8L913.8 1135.1L915.4 1131.5L917.0 1127.9L918.5 1124.3L920.0 1120.6L921.5 1117.0L923.0 1113.3L924.5 1109.7L926.0 1106.0L927.4 1102.4L928.9 1098.7L930.3 1095.0L931.7 1091.3L933.1 1087.6L934.6 1083.9L936.0 1080.2L937.4 1076.5L938.8 1072.8L940.3 1069.1L941.7 1065.3L943.1 1061.6L944.6 1057.8L946.0 1054.1L947.5 1050.3L948.9 1046.6L950.4 1042.8L951.8 1039.0L953.3 1035.3L954.7 1031.5L956.2 1027.8L957.7 1024.0L959.1 1020.2L960.6 1016.5L962.1 1012.7L963.6 1008.9L965.0 1005.2L966.5 1001.4L968.0 997.7L969.5 993.9L971.0 990.2L972.5 986.5L974.0 982.8L975.5 979.1L977.0 975.3L978.5 971.7L980.0 968.0L981.5 964.3L983.1 960.6L984.6 957.0L986.2 953.3L987.8 949.7L989.4 946.0L991.0 942.4L992.6 938.8L994.3 935.2L995.9 931.6L997.7 928.0L999.4 924.4L1001.1 920.8L1002.9 917.3L1004.8 913.7L1006.6 910.2L1008.5 906.6L1010.4 903.1L1012.4 899.6L1014.4 896.1L1016.5 892.6L1018.6 889.1L1020.7 885.6L1022.9 882.2L1025.2 878.8L1027.6 875.6L1030.1 872.4L1032.7 869.4L1035.5 866.5L1038.5 863.9L1041.7 861.5L1045.2 859.4L1048.8 857.6L1052.6 856.0L1056.5 854.8L1060.4 854.0L1064.4 853.5L1068.4 853.4L1072.2 853.6L1076.0 854.3L1079.6 855.4L1083.0 857.0L1086.3 858.9L1089.3 861.2L1092.3 863.7L1095.1 866.6L1097.7 869.6L1100.3 872.7L1102.9 875.9L1105.3 879.2L1107.8 882.5L1110.1 885.8L1112.5 889.1L1114.8 892.5L1117.0 895.8L1119.3 899.2L1121.4 902.6L1123.6 906.0L1125.7 909.4L1127.8 912.8L1129.8 916.3L1131.8 919.8L1133.8 923.2L1135.7 926.7L1137.6 930.2L1139.5 933.7L1141.3 937.3L1143.2 940.8L1145.0 944.4L1146.7 947.9L1148.5 951.5L1150.2 955.1L1151.9 958.7L1153.6 962.3L1155.2 965.9L1156.9 969.5L1158.5 973.2L1160.1 976.8L1161.7 980.5L1163.3 984.1L1164.8 987.8L1166.4 991.5L1167.9 995.2L1169.4 998.9L1170.9 1002.6L1172.4 1006.3L1173.9 1010.0L1175.4 1013.7L1176.9 1017.4L1178.3 1021.1L1179.8 1024.8L1181.2 1028.6L1182.6 1032.3L1184.1 1036.1L1185.5 1039.8L1186.9 1043.6L1188.3 1047.3L1189.7 1051.1L1191.1 1054.8L1192.4 1058.6L1193.8 1062.4L1195.2 1066.1L1196.6 1069.9L1197.9 1073.7L1199.3 1077.4L1200.7 1081.2L1202.0 1085.0L1203.4 1088.7L1204.7 1092.5L1206.1 1096.3L1207.5 1100.1L1208.8 1103.8L1210.2 1107.6L1211.6 1111.4L1212.9 1115.1L1214.3 1118.9L1215.7 1122.7L1217.0 1126.4L1218.4 1130.2L1219.8 1133.9L1221.2 1137.7L1222.6 1141.4L1224.0 1145.2L1225.4 1148.9L1226.8 1152.7L1228.2 1156.4L1229.6 1160.1L1231.1 1163.9L1232.5 1167.6L1233.9 1171.3L1235.4 1175.1L1236.8 1178.8L1238.3 1182.5L1239.8 1186.2L1241.2 1189.9L1242.7 1193.6L1244.2 1197.4L1245.7 1201.1L1247.2 1204.8L1248.7 1208.5L1250.2 1212.1L1251.8 1215.8L1253.3 1219.5L1254.9 1223.2L1256.4 1226.9L1258.0 1230.6L1259.6 1234.2L1261.1 1237.9L1262.7 1241.6L1264.3 1245.2L1266.0 1248.9L1267.6 1252.5L1269.2 1256.2L1270.9 1259.8L1272.5 1263.5L1274.2 1267.1L1275.9 1270.8L1277.6 1274.4L1279.3 1278.0L1281.0 1281.6L1282.7 1285.3L1284.4 1288.9L1286.2 1292.5L1288.0 1296.1L1289.8 1299.7L1291.5 1303.2L1293.4 1306.8L1295.2 1310.4L1297.0 1314.0L1298.9 1317.5L1300.8 1321.1L1302.6 1324.6L1304.5 1328.1L1306.5 1331.7L1308.4 1335.2L1310.4 1338.7L1312.3 1342.2L1314.3 1345.6L1316.3 1349.1L1318.3 1352.6L1320.4 1356.0L1322.5 1359.5L1324.5 1362.9L1326.6 1366.3L1328.8 1369.7L1330.9 1373.1L1333.1 1376.5L1335.3 1379.8L1337.5 1383.2L1339.7 1386.5L1341.9 1389.8L1344.2 1393.1L1346.5 1396.4L1348.8 1399.6L1351.2 1402.8L1353.6 1406.1L1356.0 1409.2L1358.5 1412.4L1360.9 1415.5L1363.5 1418.6L1366.0 1421.7L1368.6 1424.7L1371.2 1427.7L1373.9 1430.6L1376.6 1433.5L1379.4 1436.4L1382.2 1439.3L1385.0 1442.1L1387.9 1444.8L1390.9 1447.5L1393.8 1450.1L1396.9 1452.8L1400.0 1455.3L1403.1 1457.8L1406.3 1460.3L1409.5 1462.7L1412.8 1465.0L1416.1 1467.3L1419.4 1469.5L1422.8 1471.7L1426.2 1473.9L1429.7 1475.9L1433.2 1478.0L1436.7 1479.9L1440.3 1481.8L1443.8 1483.7L1447.5 1485.5L1451.1 1487.2L1454.8 1488.9L1458.5 1490.5L1462.2 1492.0L1466.0 1493.5L1469.7 1494.9L1473.5 1496.3L1477.3 1497.6L1481.1 1498.8L1485.0 1500.0L1488.8 1501.1L1492.7 1502.1L1496.6 1503.1L1500.4 1504.0L1504.3 1504.8L1508.3 1505.6L1512.2 1506.4L1516.1 1507.1L1520.0 1507.7L1524.0 1508.4L1527.9 1509.0L1531.9 1509.5L1535.8 1510.1L1539.8 1510.6L1543.8 1511.1L1547.7 1511.5L1551.7 1512.0L1555.7 1512.4L1559.7 1512.9L1563.6 1513.3L1567.6 1513.8L1571.6 1514.2L1575.6 1514.7L1579.5 1515.1L1583.5 1515.6L1587.5 1516.0L1591.5 1516.5L1595.5 1516.9L1599.4 1517.3L1603.4 1517.8L1607.4 1518.2L1611.4 1518.7L1615.4 1519.1L1619.3 1519.5L1623.3 1520.0L1627.3 1520.4L1631.3 1520.8L1635.3 1521.3L1639.2 1521.7L1643.2 1522.1L1647.2 1522.5L1651.2 1523.0L1655.2 1523.4L1659.2 1523.8L1663.1 1524.2L1667.1 1524.7L1671.1 1525.1L1675.1 1525.5L1679.1 1525.9L1683.1 1526.3L1687.0 1526.7L1691.0 1527.2L1695.0 1527.6L1699.0 1528.0L1703.0 1528.4L1707.0 1528.8L1711.0 1529.2L1714.9 1529.6L1718.9 1530.0L1722.9 1530.4L1726.9 1530.8L1730.9 1531.2L1734.9 1531.6L1738.9 1532.0L1742.9 1532.4L1746.8 1532.7L1750.8 1533.1L1754.8 1533.5L1758.8 1533.9L1762.8 1534.3L1766.8 1534.6L1770.8 1535.0L1774.8 1535.4L1778.7 1535.8L1782.7 1536.1L1786.7 1536.5L1790.7 1536.9L1794.7 1537.2L1798.7 1537.6L1802.7 1537.9L1806.7 1538.3L1810.7 1538.6L1814.7 1539.0L1818.6 1539.3L1822.6 1539.7L1826.6 1540.0L1830.6 1540.4L1834.6 1540.7L1838.6 1541.0L1842.6 1541.4L1846.6 1541.7L1850.6 1542.0L1854.6 1542.3L1858.5 1542.6L1862.5 1543.0L1866.5 1543.3L1870.5 1543.6L1874.5 1543.9L1878.5 1544.2L1882.5 1544.5L1886.5 1544.8L1890.5 1545.1L1894.5 1545.4L1898.5 1545.7L1902.4 1546.0L1906.4 1546.2L1910.4 1546.5L1914.4 1546.8L1918.4 1547.1L1922.4 1547.3L1926.4 1547.6L1930.4 1547.9L1934.4 1548.1L1938.4 1548.4L1942.4 1548.6L1946.4 1548.9L1950.4 1549.1L1954.4 1549.4L1958.4 1549.6L1962.3 1549.8L1966.3 1550.1L1970.3 1550.3L1974.3 1550.5L1978.3 1550.7L1982.3 1550.9L1986.3 1551.1L1990.3 1551.3L1994.3 1551.5L1998.3 1551.7L2002.3 1551.9L2006.3 1552.1L2010.3 1552.3L2014.3 1552.5L2018.3 1552.7L2022.3 1552.8L2026.3 1553.0L2030.3 1553.2L2034.3 1553.3L2038.3 1553.5L2042.3 1553.6L2046.3 1553.8L2050.3 1553.9L2054.3 1554.0L2058.3 1554.2L2062.3 1554.3L2066.3 1554.4L2070.3 1554.5L2074.3 1554.6L2078.3 1554.7L2082.3 1554.8L2086.3 1554.9L2090.3 1555.0L2094.3 1555.1L2098.3 1555.2L2102.3 1555.2L2106.3 1555.3L2110.3 1555.4L2114.3 1555.4L2118.3 1555.5L2122.3 1555.5L2126.3 1555.6L2130.3 1555.6L2134.3 1555.6L2138.3 1555.7L2142.3 1555.7L2146.3 1555.7L2150.4 1555.7L2154.4 1555.7L2158.4 1555.7L2162.4 1555.7L2166.4 1555.7L2170.4 1555.7L2174.4 1555.7L2178.4 1555.6L2182.4 1555.6L2186.4 1555.5L2190.4 1555.5L2194.4 1555.4L2198.5 1555.4L2202.5 1555.3L2206.5 1555.2L2210.5 1555.2L2214.5 1555.1L2218.5 1555.0L2222.5 1554.9L2226.5 1555.4"/>
</g>
<g class="t" font-size="78.70" stroke="#000" stroke-width="0.50">
<text transform="translate(227.8 154.9) scale(0.9735 1)">0.50</text>
<text transform="translate(227.8 511.4) scale(0.9735 1)">0.38</text>
<text transform="translate(227.8 867.9) scale(0.9735 1)">0.25</text>
<text transform="translate(227.8 1224.3) scale(0.9735 1)">0.13</text>
<text transform="translate(227.8 1580.8) scale(0.9735 1)">0.00</text>
<text text-anchor="middle" transform="translate(453.7 1689.3) scale(0.9735 1)">350</text>
<text text-anchor="middle" transform="translate(650.7 1689.3) scale(0.9735 1)">400</text>
<text text-anchor="middle" transform="translate(847.7 1689.3) scale(0.9735 1)">450</text>
<text text-anchor="middle" transform="translate(1044.7 1689.3) scale(0.9735 1)">500</text>
<text text-anchor="middle" transform="translate(1241.7 1689.3) scale(0.9735 1)">550</text>
<text text-anchor="middle" transform="translate(1438.8 1689.3) scale(0.9735 1)">600</text>
<text text-anchor="middle" transform="translate(1635.8 1689.3) scale(0.9735 1)">650</text>
<text text-anchor="middle" transform="translate(1832.8 1689.3) scale(0.9735 1)">700</text>
<text text-anchor="middle" transform="translate(2029.8 1689.3) scale(0.9735 1)">750</text>
<text text-anchor="middle" transform="translate(2226.8 1689.3) scale(0.9735 1)">800</text>
</g>
<text class="s" font-size="90.00" x="1221.0" y="1820.0"><tspan textLength="47.0" lengthAdjust="spacingAndGlyphs">λ</tspan><tspan x="1273.0"> </tspan><tspan font-size="80.50" x="1288.2" y="1819.4">(</tspan><tspan class="t" font-size="84.00" x="1316.6" y="1819.7">nm</tspan><tspan font-size="80.50" x="1431.6" y="1819.4">)</tspan></text>
<text class="t" font-weight="bold" font-size="78.10" text-anchor="middle" transform="translate(180.9 845.0) rotate(-90) scale(0.9160 1)">Absorbance</text>
</svg>
</body>
</html>
